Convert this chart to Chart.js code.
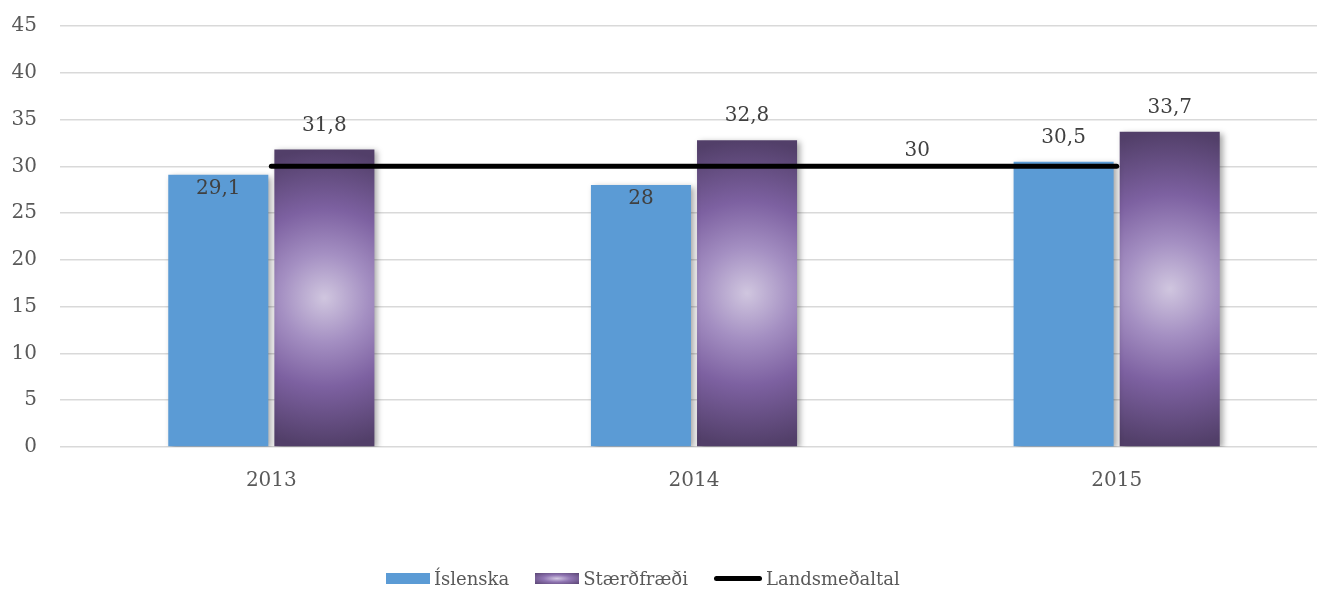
<!DOCTYPE html>
<html>
<head>
<meta charset="utf-8">
<script src="https://cdn.jsdelivr.net/npm/chart.js@4.4.1/dist/chart.umd.min.js"></script>
<style>
html, body { margin: 0; padding: 0; background: #fff; overflow: hidden; width: 1317px; height: 590px; }
#wrap { position: absolute; left: 0; top: -9px; width: 1328px; height: 599px; }
#legend { position: absolute; left: 386px; top: 565px; height: 26px; display: flex; align-items: center;
          font: 18px "DejaVu Serif"; color: #595959; white-space: nowrap; }
#legend .item { display: flex; align-items: center; margin-right: 26px; }
#legend .sw { width: 44px; height: 11px; margin-right: 4px; }
#legend .blue { background: #5B9BD5; }
#legend .purple { background: radial-gradient(ellipse at center, #D3C9E2 0%, #8F74B2 45%, #5A4573 100%); }
#legend .line { height: 5px; border-radius: 3px; background: #000; margin-right: 4px; width: 48px; }
</style>
</head>
<body>
<div id="wrap"><canvas id="chart" width="1328" height="599"></canvas></div>
<div id="legend">
  <div class="item"><div class="sw blue"></div>Íslenska</div>
  <div class="item"><div class="sw purple"></div>Stærðfræði</div>
  <div class="item"><div class="sw line"></div>Landsmeðaltal</div>
</div>
<script>
// data
const years = ['2013', '2014', '2015'];
const islenska = [29.1, 28, 30.5];
const staerdfraedi = [31.8, 32.8, 33.7];
const landsmedaltal = [30, 30, 30];
const yMax = 45;
const yStep = 5;

const fmt = v => String(v).replace('.', ',');

// shadow + radial gradient for the bars
const barStyle = {
    id: 'barStyle',
    beforeDatasetDraw(chart, args) {
        const meta = args.meta;
        if (meta.type !== 'bar') return;
        const ctx = chart.ctx;
        ctx.save();
        ctx.shadowColor = 'rgba(0,0,0,0.35)';
        ctx.shadowBlur = 6;
        ctx.shadowOffsetX = 3;
        ctx.shadowOffsetY = 2;
        if (chart.data.datasets[args.index].gradient) {
            meta.data.forEach(el => {
                const cy = (el.y + el.base) / 2;
                const r = (el.base - el.y) / 2;
                const g = ctx.createRadialGradient(el.x, cy, 0, el.x, cy, r);
                g.addColorStop(0, '#D0C6DF');
                g.addColorStop(0.3, '#A48FC2');
                g.addColorStop(0.6, '#7D61A1');
                g.addColorStop(1, '#523F69');
                el.options.backgroundColor = g;
            });
        }
    },
    afterDatasetDraw(chart, args) {
        if (args.meta.type === 'bar') chart.ctx.restore();
    }
};

// value labels
const valueLabels = {
    id: 'valueLabels',
    afterDatasetsDraw(chart, args, opts) {
        const ctx = chart.ctx;
        ctx.save();
        ctx.font = '20px "DejaVu Serif"';
        ctx.fillStyle = '#404040';
        ctx.textAlign = 'center';
        ctx.textBaseline = 'middle';
        chart.data.datasets.forEach((ds, di) => {
            const meta = chart.getDatasetMeta(di);
            meta.data.forEach((el, i) => {
                const txt = fmt(ds.data[i]);
                if (ds.type === 'line') {
                    if (i !== 1) return;
                    const nx = (el.x + meta.data[2].x) / 2 + 12;
                    ctx.fillText(txt, nx, el.y - 16);
                    return;
                }
                const inside = opts.inside[ds.label] && opts.inside[ds.label][i];
                ctx.fillText(txt, el.x, inside ? el.y + 14 : el.y - 24);
            });
        });
        ctx.restore();
    }
};

try {
    new Chart(document.getElementById('chart'), {
        data: {
            labels: years,
            datasets: [
                {
                    type: 'line', label: 'Landsmeðaltal', data: landsmedaltal,
                    borderColor: '#000', borderWidth: 5, borderCapStyle: 'round',
                    pointRadius: 0, pointHoverRadius: 0, order: 0
                },
                {
                    type: 'bar', label: 'Íslenska', data: islenska,
                    backgroundColor: '#5B9BD5', order: 1,
                    categoryPercentage: 0.502, barPercentage: 0.943
                },
                {
                    type: 'bar', label: 'Stærðfræði', data: staerdfraedi, gradient: true,
                    backgroundColor: () => '#6B5290', order: 1,
                    categoryPercentage: 0.502, barPercentage: 0.943
                }
            ]
        },
        options: {
            responsive: false,
            animation: false,
            devicePixelRatio: 1,
            layout: { padding: { top: 15, right: 0, left: 0, bottom: 0 } },
            plugins: {
                legend: { display: false },
                tooltip: { enabled: false },
                valueLabels: { inside: { 'Íslenska': [true, true, false] } }
            },
            scales: {
                x: {
                    grid: { display: false, drawTicks: false },
                    border: { display: false },
                    ticks: { color: '#595959', padding: 22, font: { family: 'DejaVu Serif', size: 20 } },
                    afterFit: s => { s.height = 143; }
                },
                y: {
                    min: 0, max: yMax,
                    grid: { color: '#D9D9D9', lineWidth: 1.5, drawTicks: false },
                    border: { display: false },
                    ticks: { stepSize: yStep, color: '#595959', padding: 23, font: { family: 'DejaVu Serif', size: 20 } },
                    afterFit: s => { s.width = 60; }
                }
            }
        },
        plugins: [barStyle, valueLabels]
    });
} catch (e) { console.error('Crash in chart', e); }
</script>
</body>
</html>
